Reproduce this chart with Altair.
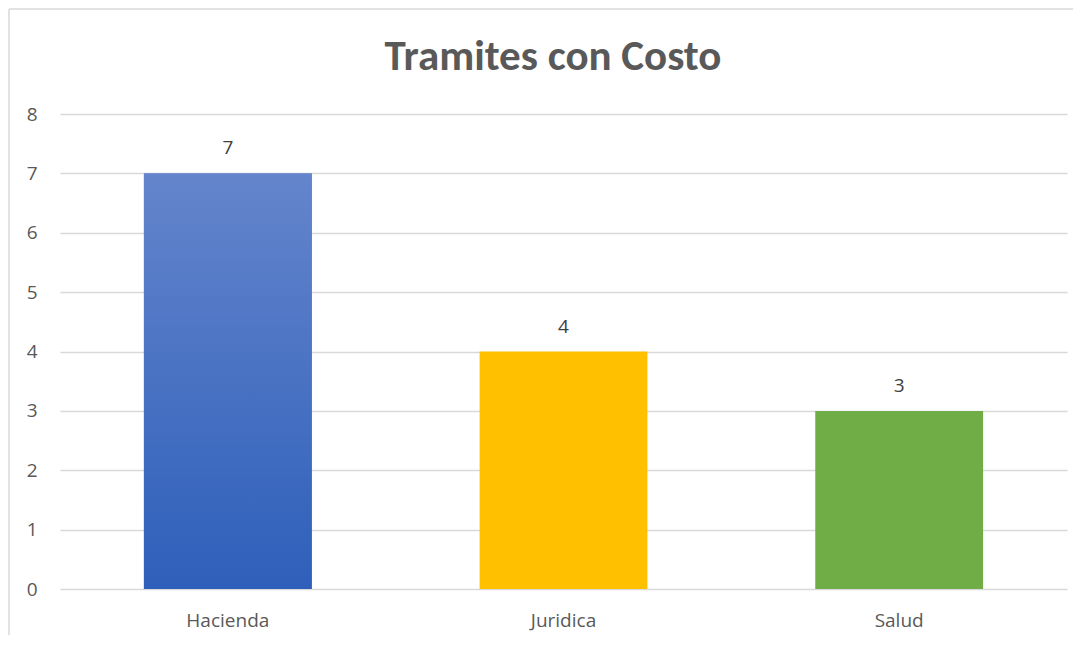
import altair as alt
import pandas as pd

categories = ["Hacienda", "Juridica", "Salud"]
values = [7, 4, 3]
colors = ["#3F6EC6", "#FFC000", "#70AD47"]
title_text = "Tramites con Costo"

df = pd.DataFrame({"cat": categories, "val": values, "col": colors})

TFONT = "Carlito, Lato, sans-serif"
FONT = "Open Sans, sans-serif"
W, H = 1007, 475

base = alt.Chart(df)

x_enc = alt.X("cat:N", sort=categories, title=None,
              scale=alt.Scale(paddingInner=0.5, paddingOuter=0.25),
              axis=alt.Axis(labelAngle=0, labelFont=FONT, labelFontSize=19,
                            labelColor="#595959", labelPadding=22, ticks=False,
                            domain=False, grid=False))
y_enc = alt.Y("val:Q", title=None,
              scale=alt.Scale(domain=[0, 8]),
              axis=alt.Axis(values=list(range(0, 9)), format="d", labelFont=FONT,
                            labelFontSize=19, labelColor="#595959", labelPadding=23,
                            ticks=False, domain=False, gridColor="#d9d9d9",
                            gridWidth=1.5))

bars = base.mark_bar().encode(
    x=x_enc, y=y_enc,
    color=alt.Color("col:N", scale=None, legend=None),
)

grad_bar = base.transform_filter(alt.datum.cat == "Hacienda").mark_bar(
    color=alt.Gradient(
        gradient="linear", x1=0, x2=0, y1=0, y2=1,
        stops=[alt.GradientStop(color="#6485CC", offset=0),
               alt.GradientStop(color="#2E5FBA", offset=1)],
    )
).encode(x=alt.X("cat:N", sort=categories), y="val:Q")

labels = base.mark_text(baseline="alphabetic", dy=-19, font=FONT, fontSize=19,
                        color="#404040").encode(
    x=alt.X("cat:N", sort=categories), y="val:Q", text="val:Q")

title_df = pd.DataFrame({"t": [title_text]})
title = alt.Chart(title_df).mark_text(
    font=TFONT, fontSize=43, fontWeight="bold", color="#595959",
    baseline="alphabetic", align="center").encode(
    x=alt.value(493), y=alt.value(-44), text="t:N")

frame_left = alt.Chart(pd.DataFrame({"a": [0]})).mark_rule(
    color="#d9d9d9", strokeWidth=1.5, clip=False).encode(
    x=alt.value(-51), y=alt.value(-105), y2=alt.value(521))
frame_top = alt.Chart(pd.DataFrame({"a": [0]})).mark_rule(
    color="#d9d9d9", strokeWidth=1.5, clip=False).encode(
    x=alt.value(-51), x2=alt.value(1013), y=alt.value(-105))

chart = alt.layer(bars, grad_bar, labels, title, frame_left, frame_top).properties(
    width=W, height=H,
    background="white",
    autosize=alt.AutoSizeParams(type="none"),
    padding={"left": 52, "top": 106, "right": 14, "bottom": 46},
).configure_view(stroke=None)

chart.save("out.html", embed_options={"renderer": "svg", "actions": False})
